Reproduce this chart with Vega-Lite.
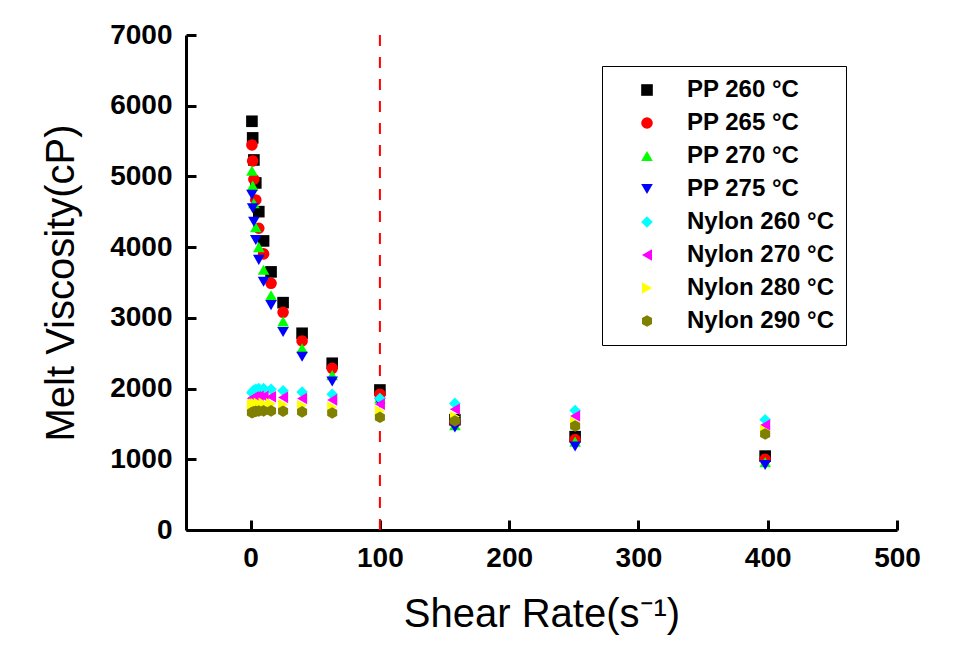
{
  "$schema": "https://vega.github.io/schema/vega-lite/v6.json",
  "width": 711,
  "height": 495,
  "autosize": "none",
  "padding": {"left": 186, "top": 35, "right": 70, "bottom": 115},
  "background": "white",
  "config": {
    "view": {"stroke": null},
    "font": "Liberation Sans",
    "axis": {
      "grid": false,
      "domainColor": "black",
      "domainWidth": 3,
      "tickColor": "black",
      "tickWidth": 3,
      "labelFont": "Liberation Sans",
      "labelFontSize": 28,
      "labelFontWeight": "bold",
      "labelColor": "black",
      "titleFont": "Liberation Sans",
      "titleFontSize": 40,
      "titleFontWeight": "normal",
      "titleColor": "black"
    }
  },
  "layer": [
    {
      "data": {"values": [{"rate": 100}]},
      "mark": {"type": "rule", "color": "#FF0000", "strokeWidth": 2, "strokeDash": [11, 11]},
      "encoding": {
        "x": {"field": "rate", "type": "quantitative", "scale": {"domain": [-50, 500]}}
      }
    },
    {
      "data": {
        "values": [
          {"series": "PP 260 °C", "rate": 1, "visc": 5780},
          {"series": "PP 260 °C", "rate": 1.58, "visc": 5545},
          {"series": "PP 260 °C", "rate": 2.51, "visc": 5233},
          {"series": "PP 260 °C", "rate": 3.98, "visc": 4908},
          {"series": "PP 260 °C", "rate": 6.31, "visc": 4502},
          {"series": "PP 260 °C", "rate": 10, "visc": 4088},
          {"series": "PP 260 °C", "rate": 15.8, "visc": 3650},
          {"series": "PP 260 °C", "rate": 25.1, "visc": 3215},
          {"series": "PP 260 °C", "rate": 39.8, "visc": 2782},
          {"series": "PP 260 °C", "rate": 63.1, "visc": 2358},
          {"series": "PP 260 °C", "rate": 100, "visc": 1980},
          {"series": "PP 260 °C", "rate": 158, "visc": 1560},
          {"series": "PP 260 °C", "rate": 251, "visc": 1320},
          {"series": "PP 260 °C", "rate": 398, "visc": 1045},
          {"series": "PP 265 °C", "rate": 1, "visc": 5445},
          {"series": "PP 265 °C", "rate": 1.58, "visc": 5219},
          {"series": "PP 265 °C", "rate": 2.51, "visc": 4960},
          {"series": "PP 265 °C", "rate": 3.98, "visc": 4667},
          {"series": "PP 265 °C", "rate": 6.31, "visc": 4267},
          {"series": "PP 265 °C", "rate": 10, "visc": 3904},
          {"series": "PP 265 °C", "rate": 15.8, "visc": 3489},
          {"series": "PP 265 °C", "rate": 25.1, "visc": 3079},
          {"series": "PP 265 °C", "rate": 39.8, "visc": 2673},
          {"series": "PP 265 °C", "rate": 63.1, "visc": 2287},
          {"series": "PP 265 °C", "rate": 100, "visc": 1920},
          {"series": "PP 265 °C", "rate": 158, "visc": 1520},
          {"series": "PP 265 °C", "rate": 251, "visc": 1280},
          {"series": "PP 265 °C", "rate": 398, "visc": 1000},
          {"series": "PP 270 °C", "rate": 1, "visc": 5080},
          {"series": "PP 270 °C", "rate": 1.58, "visc": 4870},
          {"series": "PP 270 °C", "rate": 2.51, "visc": 4620},
          {"series": "PP 270 °C", "rate": 3.98, "visc": 4280},
          {"series": "PP 270 °C", "rate": 6.31, "visc": 4000},
          {"series": "PP 270 °C", "rate": 10, "visc": 3680},
          {"series": "PP 270 °C", "rate": 15.8, "visc": 3320},
          {"series": "PP 270 °C", "rate": 25.1, "visc": 2950},
          {"series": "PP 270 °C", "rate": 39.8, "visc": 2570},
          {"series": "PP 270 °C", "rate": 63.1, "visc": 2190},
          {"series": "PP 270 °C", "rate": 100, "visc": 1860},
          {"series": "PP 270 °C", "rate": 158, "visc": 1480},
          {"series": "PP 270 °C", "rate": 251, "visc": 1250},
          {"series": "PP 270 °C", "rate": 398, "visc": 960},
          {"series": "PP 275 °C", "rate": 1, "visc": 4740},
          {"series": "PP 275 °C", "rate": 1.58, "visc": 4550},
          {"series": "PP 275 °C", "rate": 2.51, "visc": 4360},
          {"series": "PP 275 °C", "rate": 3.98, "visc": 4100},
          {"series": "PP 275 °C", "rate": 6.31, "visc": 3820},
          {"series": "PP 275 °C", "rate": 10, "visc": 3510},
          {"series": "PP 275 °C", "rate": 15.8, "visc": 3180},
          {"series": "PP 275 °C", "rate": 25.1, "visc": 2800},
          {"series": "PP 275 °C", "rate": 39.8, "visc": 2450},
          {"series": "PP 275 °C", "rate": 63.1, "visc": 2100},
          {"series": "PP 275 °C", "rate": 100, "visc": 1800},
          {"series": "PP 275 °C", "rate": 158, "visc": 1450},
          {"series": "PP 275 °C", "rate": 251, "visc": 1180},
          {"series": "PP 275 °C", "rate": 398, "visc": 920},
          {"series": "Nylon 260 °C", "rate": 1, "visc": 1940},
          {"series": "Nylon 260 °C", "rate": 1.58, "visc": 1960},
          {"series": "Nylon 260 °C", "rate": 2.51, "visc": 1975},
          {"series": "Nylon 260 °C", "rate": 3.98, "visc": 1990},
          {"series": "Nylon 260 °C", "rate": 6.31, "visc": 2000},
          {"series": "Nylon 260 °C", "rate": 10, "visc": 2000},
          {"series": "Nylon 260 °C", "rate": 15.8, "visc": 1990},
          {"series": "Nylon 260 °C", "rate": 25.1, "visc": 1970},
          {"series": "Nylon 260 °C", "rate": 39.8, "visc": 1950},
          {"series": "Nylon 260 °C", "rate": 63.1, "visc": 1920},
          {"series": "Nylon 260 °C", "rate": 100, "visc": 1860},
          {"series": "Nylon 260 °C", "rate": 158, "visc": 1790},
          {"series": "Nylon 260 °C", "rate": 251, "visc": 1690},
          {"series": "Nylon 260 °C", "rate": 398, "visc": 1560},
          {"series": "Nylon 270 °C", "rate": 1, "visc": 1860},
          {"series": "Nylon 270 °C", "rate": 1.58, "visc": 1870},
          {"series": "Nylon 270 °C", "rate": 2.51, "visc": 1880},
          {"series": "Nylon 270 °C", "rate": 3.98, "visc": 1885},
          {"series": "Nylon 270 °C", "rate": 6.31, "visc": 1890},
          {"series": "Nylon 270 °C", "rate": 10, "visc": 1890},
          {"series": "Nylon 270 °C", "rate": 15.8, "visc": 1885},
          {"series": "Nylon 270 °C", "rate": 25.1, "visc": 1875},
          {"series": "Nylon 270 °C", "rate": 39.8, "visc": 1860},
          {"series": "Nylon 270 °C", "rate": 63.1, "visc": 1840},
          {"series": "Nylon 270 °C", "rate": 100, "visc": 1780},
          {"series": "Nylon 270 °C", "rate": 158, "visc": 1707},
          {"series": "Nylon 270 °C", "rate": 251, "visc": 1612},
          {"series": "Nylon 270 °C", "rate": 398, "visc": 1485},
          {"series": "Nylon 280 °C", "rate": 1, "visc": 1760},
          {"series": "Nylon 280 °C", "rate": 1.58, "visc": 1770},
          {"series": "Nylon 280 °C", "rate": 2.51, "visc": 1780},
          {"series": "Nylon 280 °C", "rate": 3.98, "visc": 1785},
          {"series": "Nylon 280 °C", "rate": 6.31, "visc": 1790},
          {"series": "Nylon 280 °C", "rate": 10, "visc": 1790},
          {"series": "Nylon 280 °C", "rate": 15.8, "visc": 1785},
          {"series": "Nylon 280 °C", "rate": 25.1, "visc": 1775},
          {"series": "Nylon 280 °C", "rate": 39.8, "visc": 1760},
          {"series": "Nylon 280 °C", "rate": 63.1, "visc": 1740},
          {"series": "Nylon 280 °C", "rate": 100, "visc": 1683},
          {"series": "Nylon 280 °C", "rate": 158, "visc": 1603},
          {"series": "Nylon 280 °C", "rate": 251, "visc": 1518},
          {"series": "Nylon 280 °C", "rate": 398, "visc": 1405},
          {"series": "Nylon 290 °C", "rate": 1, "visc": 1660},
          {"series": "Nylon 290 °C", "rate": 1.58, "visc": 1665},
          {"series": "Nylon 290 °C", "rate": 2.51, "visc": 1672},
          {"series": "Nylon 290 °C", "rate": 3.98, "visc": 1678},
          {"series": "Nylon 290 °C", "rate": 6.31, "visc": 1682},
          {"series": "Nylon 290 °C", "rate": 10, "visc": 1685},
          {"series": "Nylon 290 °C", "rate": 15.8, "visc": 1685},
          {"series": "Nylon 290 °C", "rate": 25.1, "visc": 1680},
          {"series": "Nylon 290 °C", "rate": 39.8, "visc": 1670},
          {"series": "Nylon 290 °C", "rate": 63.1, "visc": 1655},
          {"series": "Nylon 290 °C", "rate": 100, "visc": 1594},
          {"series": "Nylon 290 °C", "rate": 158, "visc": 1542},
          {"series": "Nylon 290 °C", "rate": 251, "visc": 1471},
          {"series": "Nylon 290 °C", "rate": 398, "visc": 1358}
        ]
      },
      "mark": {"type": "point", "filled": true, "opacity": 1, "strokeWidth": 0},
      "encoding": {
        "x": {
          "field": "rate", "type": "quantitative",
          "scale": {"domain": [-50, 500], "nice": false},
          "axis": {"values": [0, 100, 200, 300, 400, 500], "format": "d", "tickSize": -10, "title": "Shear Rate(s⁻¹)", "labelPadding": 24, "titlePadding": 22, "labelFlush": false}
        },
        "y": {
          "field": "visc", "type": "quantitative",
          "scale": {"domain": [0, 7000], "nice": false},
          "axis": {"values": [0, 1000, 2000, 3000, 4000, 5000, 6000, 7000], "format": "d", "tickSize": -10, "title": "Melt Viscosity(cP)", "labelPadding": 24, "titlePadding": 28, "labelFlush": false}
        },
        "color": {
          "field": "series", "type": "nominal",
          "scale": {
            "domain": ["PP 260 °C", "PP 265 °C", "PP 270 °C", "PP 275 °C", "Nylon 260 °C", "Nylon 270 °C", "Nylon 280 °C", "Nylon 290 °C"],
            "range": ["#000000", "#FF0000", "#00FF00", "#0000FF", "#00FFFF", "#FF00FF", "#FFFF00", "#808000"]
          },
          "legend": {
            "title": null,
            "orient": "none",
            "legendX": 416,
            "legendY": 31,
            "fillColor": "white",
            "strokeColor": "black",
            "padding": 12,
            "rowPadding": 9,
            "symbolOffset": 21,
            "symbolSize": 130,
            "symbolStrokeWidth": 0,
            "labelFont": "Liberation Sans",
            "labelFontSize": 24,
            "labelFontWeight": "bold",
            "labelColor": "black",
            "labelOffset": 28,
            "labelLimit": 300
          }
        },
        "shape": {
          "field": "series", "type": "nominal",
          "scale": {
            "domain": ["PP 260 °C", "PP 265 °C", "PP 270 °C", "PP 275 °C", "Nylon 260 °C", "Nylon 270 °C", "Nylon 280 °C", "Nylon 290 °C"],
            "range": ["square", "circle", "triangle-up", "triangle-down", "diamond", "triangle-left", "triangle-right", "M0,-1L0.866,-0.5L0.866,0.5L0,1L-0.866,0.5L-0.866,-0.5Z"]
          },
          "legend": null
        },
        "size": {
          "field": "series", "type": "nominal",
          "scale": {
            "domain": ["PP 260 °C", "PP 265 °C", "PP 270 °C", "PP 275 °C", "Nylon 260 °C", "Nylon 270 °C", "Nylon 280 °C", "Nylon 290 °C"],
            "range": [135, 135, 230, 230, 240, 230, 230, 220]
          },
          "legend": null
        }
      }
    }
  ]
}
